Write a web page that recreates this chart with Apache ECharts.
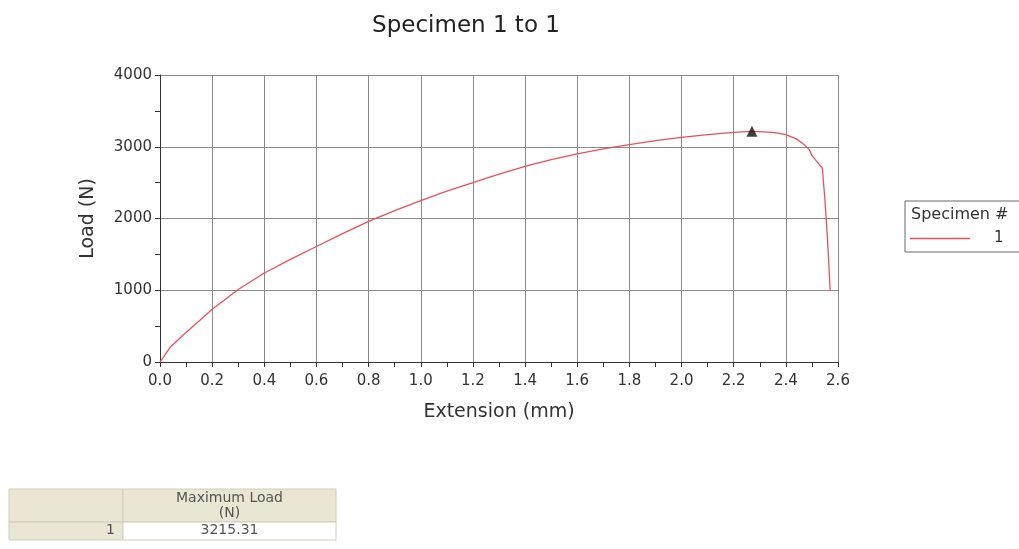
<!DOCTYPE html>
<html><head><meta charset="utf-8">
<script src="https://cdn.jsdelivr.net/npm/echarts@6/dist/echarts.min.js"></script>
<style>html,body{margin:0;padding:0;background:#fff}#c{width:1019px;height:549px}</style>
</head><body><div id="c"></div>
<script>
const titleText = 'Specimen 1 to 1';
const xName = 'Extension (mm)';
const yName = 'Load (N)';
const extension = [0, 0.04, 0.09, 0.15, 0.2, 0.3, 0.4, 0.5, 0.6, 0.7, 0.8, 0.9, 1.0, 1.1, 1.2, 1.3, 1.4, 1.5, 1.6, 1.7, 1.8, 1.9, 2.0, 2.1, 2.2, 2.27, 2.35, 2.4, 2.44, 2.47, 2.49, 2.5, 2.52, 2.54, 2.55, 2.56, 2.57];
const load = [0, 210, 380, 570, 735, 1010, 1240, 1430, 1610, 1790, 1960, 2110, 2250, 2380, 2500, 2620, 2725, 2820, 2900, 2970, 3030, 3085, 3130, 3170, 3200, 3215, 3200, 3170, 3110, 3030, 2960, 2880, 2790, 2700, 2250, 1700, 1000];
const maxPoint = [2.27, 3215.31];
const legendTitle = 'Specimen #';
const seriesName = '1';
const tableHeader = ['', 'Maximum Load\n(N)'];
const tableRow = ['1', '3215.31'];

const font = 'Verdana, "DejaVu Sans", sans-serif';
const red = '#e8505b';
const chart = echarts.init(document.getElementById('c'));
const data = extension.map((x, i) => [x, load[i]]);
const beige = '#e9e6d4';
const tx = 9, ty = 489, c1 = 114, c2 = 213, h1 = 33, h2 = 18;
chart.setOption({
  animation: false,
  title: { text: titleText, left: 461, top: 10, textAlign: 'center',
    textStyle: { fontFamily: font, fontSize: 23, fontWeight: 'normal', color: '#222' } },
  grid: { left: 160, right: 181, top: 75, bottom: 187 },
  legend: { left: 905, top: 201, orient: 'vertical', padding: [30, 30, 6, 5],
    borderColor: '#666', borderWidth: 1, itemWidth: 60, itemHeight: 10,
    data: [{ name: seriesName, icon: 'path://M0,5L60,5L60,6.4L0,6.4Z', itemStyle: { color: red } }],
    textStyle: { fontFamily: font, fontSize: 15, color: '#333', padding: [0, 0, 0, 19] } },
  xAxis: { type: 'value', min: 0, max: 2.6, interval: 0.2,
    name: xName, nameLocation: 'middle', nameGap: 41,
    nameTextStyle: { fontFamily: font, fontSize: 19, color: '#333' },
    axisLine: { onZero: false, lineStyle: { color: '#333' } },
    axisTick: { show: true, length: 5, lineStyle: { color: '#333' } },
    minorTick: { show: true, splitNumber: 2, length: 5, lineStyle: { color: '#333' } },
    axisLabel: { fontFamily: font, fontSize: 15, color: '#333', margin: 12, formatter: v => v.toFixed(1) },
    splitLine: { show: true, lineStyle: { color: '#8a8a8a', width: 1 } } },
  yAxis: { type: 'value', min: 0, max: 4000, interval: 1000,
    name: yName, nameLocation: 'middle', nameGap: 62,
    nameTextStyle: { fontFamily: font, fontSize: 19, color: '#333' },
    axisLine: { show: true, lineStyle: { color: '#333' } },
    axisTick: { show: true, length: 5, lineStyle: { color: '#333' } },
    minorTick: { show: true, splitNumber: 2, length: 5, lineStyle: { color: '#333' } },
    axisLabel: { fontFamily: font, fontSize: 15, color: '#333', margin: 8, formatter: v => String(v) },
    splitLine: { show: true, lineStyle: { color: '#8a8a8a', width: 1 } } },
  series: [
    { name: seriesName, type: 'line', data: data, showSymbol: false, symbol: 'none',
      lineStyle: { color: red, width: 1.3 }, itemStyle: { color: red } },
    { name: 'max', type: 'scatter', data: [maxPoint], symbol: 'triangle', symbolSize: 11,
      itemStyle: { color: '#111' }, z: 5 }
  ],
  graphic: [
    { type: 'text', left: 911, top: 207, style: { text: legendTitle, font: '16px ' + font, fill: '#333' } },
    { type: 'rect', shape: { x: tx, y: ty, width: c1, height: h1 }, style: { fill: beige, stroke: '#d0cdbc' } },
    { type: 'rect', shape: { x: tx + c1, y: ty, width: c2, height: h1 }, style: { fill: beige, stroke: '#d0cdbc' } },
    { type: 'rect', shape: { x: tx, y: ty + h1, width: c1, height: h2 }, style: { fill: beige, stroke: '#d0cdbc' } },
    { type: 'rect', shape: { x: tx + c1, y: ty + h1, width: c2, height: h2 }, style: { fill: '#fff', stroke: '#d0cdbc' } },
    { type: 'text', x: tx + c1 + c2 / 2, y: ty + 2, style: { text: tableHeader[1], font: '14px ' + font, fill: '#555', align: 'center', lineHeight: 15 } },
    { type: 'text', x: tx + c1 - 8, y: ty + h1 + 1, style: { text: tableRow[0], font: '14px ' + font, fill: '#555', align: 'right' } },
    { type: 'text', x: tx + c1 + c2 / 2, y: ty + h1 + 1, style: { text: tableRow[1], font: '14px ' + font, fill: '#555', align: 'center' } }
  ]
});
</script></body></html>
